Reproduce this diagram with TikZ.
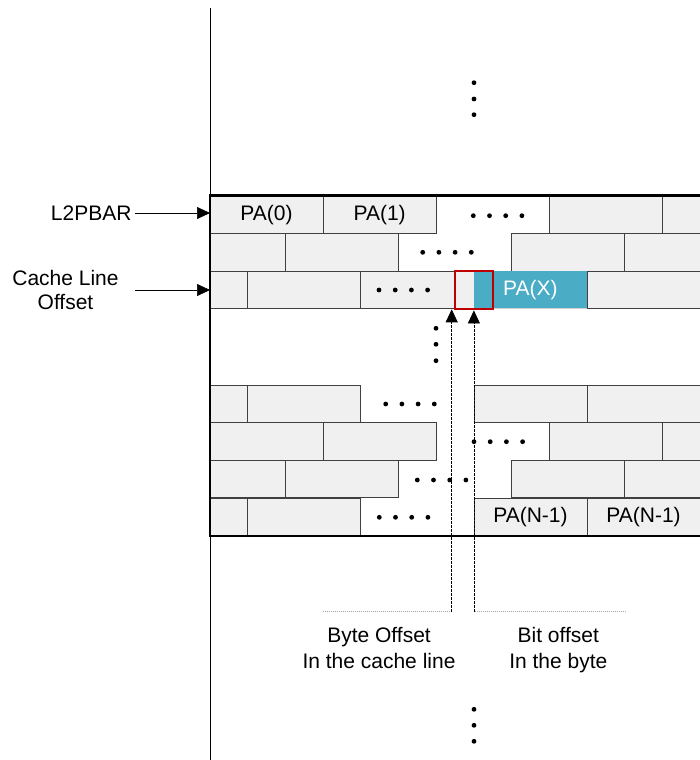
\documentclass[tikz,border=0pt]{standalone}
\usepackage{fontspec}
\setmainfont{Liberation Sans}
\usetikzlibrary{arrows.meta, positioning, calc}

\definecolor{brickgray}{HTML}{F0F0F0}
\definecolor{brickline}{HTML}{404040}
\definecolor{paxblue}{HTML}{4BACC6}
\definecolor{selred}{HTML}{C00000}

\tikzset{
  brick/.style={fill=brickgray, draw=brickline, line width=0.8pt},
  ptr/.style={-{Triangle[length=13pt,width=12pt]}, line width=0.7pt},
  offsetline/.style={line width=0.7pt, dash pattern=on 2.5pt off 1.5pt},
  guideline/.style={gray!70, line width=0.7pt, dash pattern=on 1pt off 1pt}
}

\begin{document}
\begin{tikzpicture}[x=1pt,y=-1pt,font=\fontsize{21}{24}\selectfont]
\useasboundingbox (0,0) rectangle (700,760);

% memory column
\draw[line width=0.8pt] (210,8) -- (210,760);

% bricks: row top / spans in units of 37.7
\foreach \y/\spans in {
  196/{0/3,3/6,9/12,12/13},
  233.5/{0/2,2/5,8/11,11/13},
  271/{0/1,1/4,4/7,10/13},
  385/{0/1,1/4,7/10,10/13},
  422.5/{0/3,3/6,9/12,12/13},
  460/{0/2,2/5,8/11,11/13},
  498/{0/1,1/4,7/10,10/13}}
{
  \foreach \a/\b in \spans {
    \pgfmathsetmacro\xa{210+\a*37.7}
    \pgfmathsetmacro\xb{210+\b*37.7}
    \draw[brick] (\xa,\y) rectangle (\xb,\y+37.5);
  }
}

% selected entry
\fill[paxblue] (473.9,271) rectangle (587,308.5);
\draw[gray!35, line width=0.8pt] (473.9,308.5) -- (587,308.5);
\node[draw=selred, line width=2.3pt, minimum width=37.7pt, minimum height=38.5pt, inner sep=0] (bitsel) at (473.9,290) {};

% outer frame
\draw[line width=2.2pt] (700,195.5) -- (210,195.5) -- (210,536) -- (700,536);

% entry labels
\node (pa0) at (266.55,214.75) {PA(0)};
\node (pa1) at (379.65,214.75) {PA(1)};
\node[text=white] (pax) at (530.45,290) {PA(X)};
\node (pan1) at (530.45,517) {PA(N-1)};
\node (pan2) at (643.55,517) {PA(N-1)};

% dots
\foreach \x/\y in {473.3/215.7, 422.7/252.3, 379/290, 385.7/404, 474/441.7, 417.3/480, 379.3/517.3}
  \foreach \i in {0,...,3}
    \fill (\x+\i*16.2,\y) circle (2.4);
\foreach \y in {328.3,344.3,360.7}
  \fill (436,\y) circle (2.4);
\foreach \y in {82.7,99,114.7,709.3,725.3,741.3}
  \fill (474,\y) circle (2.4);

% pointers into the table
\node[anchor=east] (l2pbar) at (135,213) {L2PBAR};
\node[align=center] (cloff) at (65.5,290) {Cache Line\\Offset};
\coordinate (r1in) at (210,213);
\coordinate (r3in) at (210,290);
\draw[ptr] (l2pbar) -- (r1in);
\draw[ptr] (cloff.east -| l2pbar.east) -- (r3in);

% offsets
\coordinate (bytetail) at (322.7,611.7);
\coordinate (bytefoot) at (451.7,611.7);
\coordinate (bytetip) at (451.7,309.3);
\coordinate (bittail) at (625.7,611.7);
\coordinate (bitfoot) at (473.9,611.7);
\draw[guideline] (bytetail) -- (bytefoot);
\draw[guideline] (bittail) -- (bitfoot);
\draw[offsetline, ptr] (bytefoot) -- (bytetip);
\draw[offsetline, ptr] (bitfoot) -- (bitsel.south);

\node[align=center] (bytetxt) at (379,648) {Byte Offset\\[2pt]In the cache line};
\node[align=center] (bittxt) at (558.3,650) {Bit offset\\[2pt]In the byte};
\end{tikzpicture}
\end{document}
